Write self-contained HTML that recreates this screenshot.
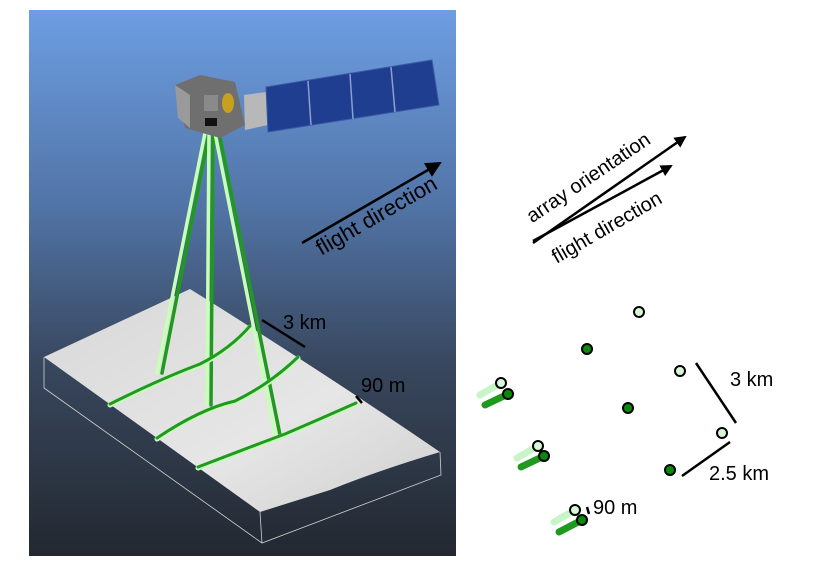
<!DOCTYPE html>
<html><head><meta charset="utf-8"><style>
html,body{margin:0;padding:0;background:#fff;width:816px;height:578px;overflow:hidden}
svg{display:block}
text{font-family:"Liberation Sans","DejaVu Sans",sans-serif}
</style></head><body>
<svg width="816" height="578" viewBox="0 0 816 578">
<defs>
<linearGradient id="sky" x1="0" y1="0" x2="0" y2="1">
<stop offset="0" stop-color="#6d9ee2"/><stop offset="0.35" stop-color="#5275a8"/><stop offset="0.65" stop-color="#38475e"/><stop offset="1" stop-color="#232830"/>
</linearGradient>
<linearGradient id="terr" x1="0" y1="0" x2="1" y2="1">
<stop offset="0" stop-color="#d8d8d8"/><stop offset="0.6" stop-color="#e6e6e6"/><stop offset="1" stop-color="#cfcfcf"/>
</linearGradient>
<marker id="ah" markerWidth="12" markerHeight="12" refX="10" refY="6" orient="auto" markerUnits="userSpaceOnUse"><path d="M0,0 L12,6 L0,12 z" fill="#000"/></marker>
<marker id="ah2" markerWidth="16" markerHeight="16" refX="14" refY="8" orient="auto" markerUnits="userSpaceOnUse"><path d="M0,0 L16,8 L0,16 z" fill="#000"/></marker>
</defs>
<g>
<rect x="29" y="10" width="427" height="546" fill="url(#sky)"/>
<g fill="none" stroke="#d0d0d0" stroke-width="0.8">
<polyline points="44,357 44,388 262,543 441,475 440,452"/>
<line x1="260" y1="512" x2="262" y2="543"/>
</g>
<path d="M44,357 L190,289 Q320,370 440,452 Q380,470 330,490 L260,512 Z" fill="url(#terr)"/>
<g stroke-linecap="round">
<line x1="206" y1="128" x2="157" y2="373" stroke="#c8ffb8" stroke-width="3.5"/>
<line x1="210" y1="128" x2="162" y2="373" stroke="#1f9a1f" stroke-width="3.5"/>
<line x1="209" y1="128" x2="207" y2="405" stroke="#c8ffb8" stroke-width="3.5"/>
<line x1="213" y1="128" x2="211" y2="405" stroke="#1f9a1f" stroke-width="3.5"/>
<line x1="214" y1="128" x2="275" y2="435" stroke="#c8ffb8" stroke-width="3.5"/>
<line x1="218" y1="128" x2="280" y2="435" stroke="#1f9a1f" stroke-width="3.5"/>
</g>
<g fill="none" stroke-linecap="round">
<path d="M110,405 Q160,380 200,365 Q230,350 250,327" stroke="#c8ffb8" stroke-width="5"/>
<path d="M110,404 Q160,379 200,364 Q230,349 250,326" stroke="#1f9a1f" stroke-width="3"/>
<path d="M157,439 Q200,410 235,402 Q270,385 298,358" stroke="#c8ffb8" stroke-width="5"/>
<path d="M157,438 Q200,409 235,401 Q270,384 298,357" stroke="#1f9a1f" stroke-width="3"/>
<path d="M198,468 Q250,448 285,435 Q320,420 356,404" stroke="#c8ffb8" stroke-width="5"/>
<path d="M198,467 Q250,447 285,434 Q320,419 356,403" stroke="#1f9a1f" stroke-width="3"/>
</g>
<g>
<path d="M244,95 L266,92 L268,125 L245,130 Z" fill="#b8b8b8"/>
<path d="M266,87 L432,60 L439,105 L268,132 Z" fill="#203e8f" stroke="#3a5aa8" stroke-width="1"/>
<line x1="308" y1="81" x2="311" y2="125" stroke="#8aa0d0" stroke-width="1.5"/>
<line x1="350" y1="74" x2="353" y2="119" stroke="#8aa0d0" stroke-width="1.5"/>
<line x1="391" y1="67" x2="395" y2="112" stroke="#8aa0d0" stroke-width="1.5"/>
<path d="M175,85 L200,75 L235,82 L245,125 L220,138 L185,128 Z" fill="#6f6f6f"/>
<path d="M175,85 L190,95 L190,128 L178,118 Z" fill="#9a9a9a"/>
<rect x="204" y="95" width="14" height="16" fill="#8a8a8a"/>
<ellipse cx="228" cy="103" rx="6" ry="10" fill="#c8a020"/>
<rect x="205" y="118" width="12" height="8" fill="#111"/>
</g>
<line x1="302" y1="243" x2="440" y2="163" stroke="#000" stroke-width="2.5" marker-end="url(#ah2)"/>
<text x="380" y="222" font-size="22" text-anchor="middle" transform="rotate(-30 380 222)">flight direction</text>
<line x1="262" y1="320" x2="305" y2="347" stroke="#000" stroke-width="2.5"/>
<text x="283" y="329" font-size="20">3 km</text>
<line x1="356" y1="396" x2="362" y2="403" stroke="#000" stroke-width="2.5"/>
<text x="361" y="392" font-size="20">90 m</text>
</g>
<g>
<line x1="533" y1="243" x2="685" y2="137" stroke="#000" stroke-width="2.5" marker-end="url(#ah)"/>
<line x1="533" y1="241" x2="671" y2="166" stroke="#000" stroke-width="2.5" marker-end="url(#ah)"/>
<text x="592" y="183" font-size="20" text-anchor="middle" transform="rotate(-34 592 183)">array orientation</text>
<text x="610" y="233" font-size="20" text-anchor="middle" transform="rotate(-30 610 233)">flight direction</text>
<g stroke-linecap="round">
<line x1="480" y1="395" x2="501" y2="383" stroke="#c8f5c8" stroke-width="7"/>
<line x1="485" y1="405" x2="508" y2="394" stroke="#1f9a1f" stroke-width="7"/>
<line x1="517" y1="458" x2="538" y2="446" stroke="#c8f5c8" stroke-width="7"/>
<line x1="521" y1="467" x2="544" y2="456" stroke="#1f9a1f" stroke-width="7"/>
<line x1="554" y1="522" x2="575" y2="510" stroke="#c8f5c8" stroke-width="7"/>
<line x1="559" y1="532" x2="582" y2="520" stroke="#1f9a1f" stroke-width="7"/>
</g>
<g stroke="#000" stroke-width="2">
<circle cx="639" cy="312" r="5" fill="#d8f5d8"/>
<circle cx="587" cy="349" r="5" fill="#0a8a0a"/>
<circle cx="680" cy="371" r="5" fill="#d8f5d8"/>
<circle cx="628" cy="408" r="5" fill="#0a8a0a"/>
<circle cx="722" cy="433" r="5" fill="#d8f5d8"/>
<circle cx="670" cy="470" r="5" fill="#0a8a0a"/>
<circle cx="501" cy="383" r="5" fill="#d8f5d8"/>
<circle cx="508" cy="394" r="5" fill="#0a8a0a"/>
<circle cx="538" cy="446" r="5" fill="#d8f5d8"/>
<circle cx="544" cy="456" r="5" fill="#0a8a0a"/>
<circle cx="575" cy="510" r="5" fill="#d8f5d8"/>
<circle cx="582" cy="520" r="5" fill="#0a8a0a"/>
</g>
<line x1="696" y1="363" x2="736" y2="423" stroke="#000" stroke-width="2.5"/>
<text x="730" y="386" font-size="20">3 km</text>
<line x1="682" y1="476" x2="730" y2="442" stroke="#000" stroke-width="2.5"/>
<text x="709" y="480" font-size="20">2.5 km</text>
<line x1="587" y1="507" x2="589" y2="514" stroke="#000" stroke-width="2.5"/>
<text x="593" y="514" font-size="20">90 m</text>
</g>
</svg>
</body></html>
